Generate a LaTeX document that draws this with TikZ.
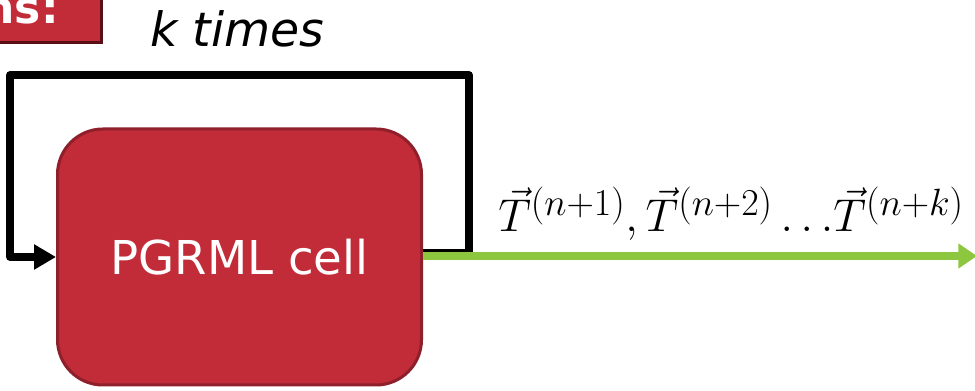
\RequirePackage{fix-cm}
\documentclass[tikz,border=0pt]{standalone}
\usepackage{fontspec}
\setmainfont{DejaVu Sans}
\usetikzlibrary{arrows.meta}
\DeclareMathSizes{34.5}{34.5}{28.5}{21}
\definecolor{cellred}{HTML}{C22B38}
\definecolor{celledge}{HTML}{8E1F2B}
\definecolor{shadowred}{HTML}{5A0F16}
\definecolor{outgreen}{HTML}{8DC63F}
\tikzset{
  cellbox/.style={draw=celledge, fill=cellred, line width=2.25pt, rounded corners=34pt,
    minimum width=273pt, minimum height=192pt, inner sep=0pt, text=white,
    font=\fontsize{35}{35}\selectfont},
  loopline/.style={draw=black, line width=5.5pt, line join=round,
    -{Triangle[length=16.5pt,width=18pt]}},
  outline/.style={draw=outgreen, line width=5.5pt,
    -{Triangle[length=14pt,width=18pt]}},
}
\begin{document}
\begin{tikzpicture}[x=0.75pt,y=-0.75pt]
\useasboundingbox (0,0) rectangle (975,391);
\clip (0,0) rectangle (975,391);
% tag box (cut off)
\fill[shadowred] (-10,-10) rectangle (103,44);
\fill[cellred] (-10,-10) rectangle (100,41);
\node[anchor=base east, text=white, inner sep=0pt, font=\fontsize{33}{33}\selectfont\bfseries] (tag) at (59,24) {ns:};
% k times
\node[anchor=base west, inner sep=0pt, font=\fontsize{35.5}{35.5}\selectfont\itshape] (ktimes) at (150,47) {k times};
% cell
\node[cellbox] (cell) at (239.5,257) {PGRML cell};
% loop
\coordinate (lr) at (469,253);
\coordinate (tl) at (10,75);
\draw[loopline] (cell.east |- lr) -- (lr) -- (lr |- tl) -- (tl) -- (tl |- cell.west) -- (cell.west);
% output
\coordinate (out) at (977,256);
\draw[outline] (cell.east |- out) -- (out);
\node[anchor=base west, inner sep=0pt, font=\fontsize{34.5}{34.5}\selectfont] (label) at (498,232)
  {$\vec{T}^{(n+1)},\vec{T}^{(n+2)}\ldots\mkern-3mu\vec{T}^{(n+k)}$};
\end{tikzpicture}
\end{document}
